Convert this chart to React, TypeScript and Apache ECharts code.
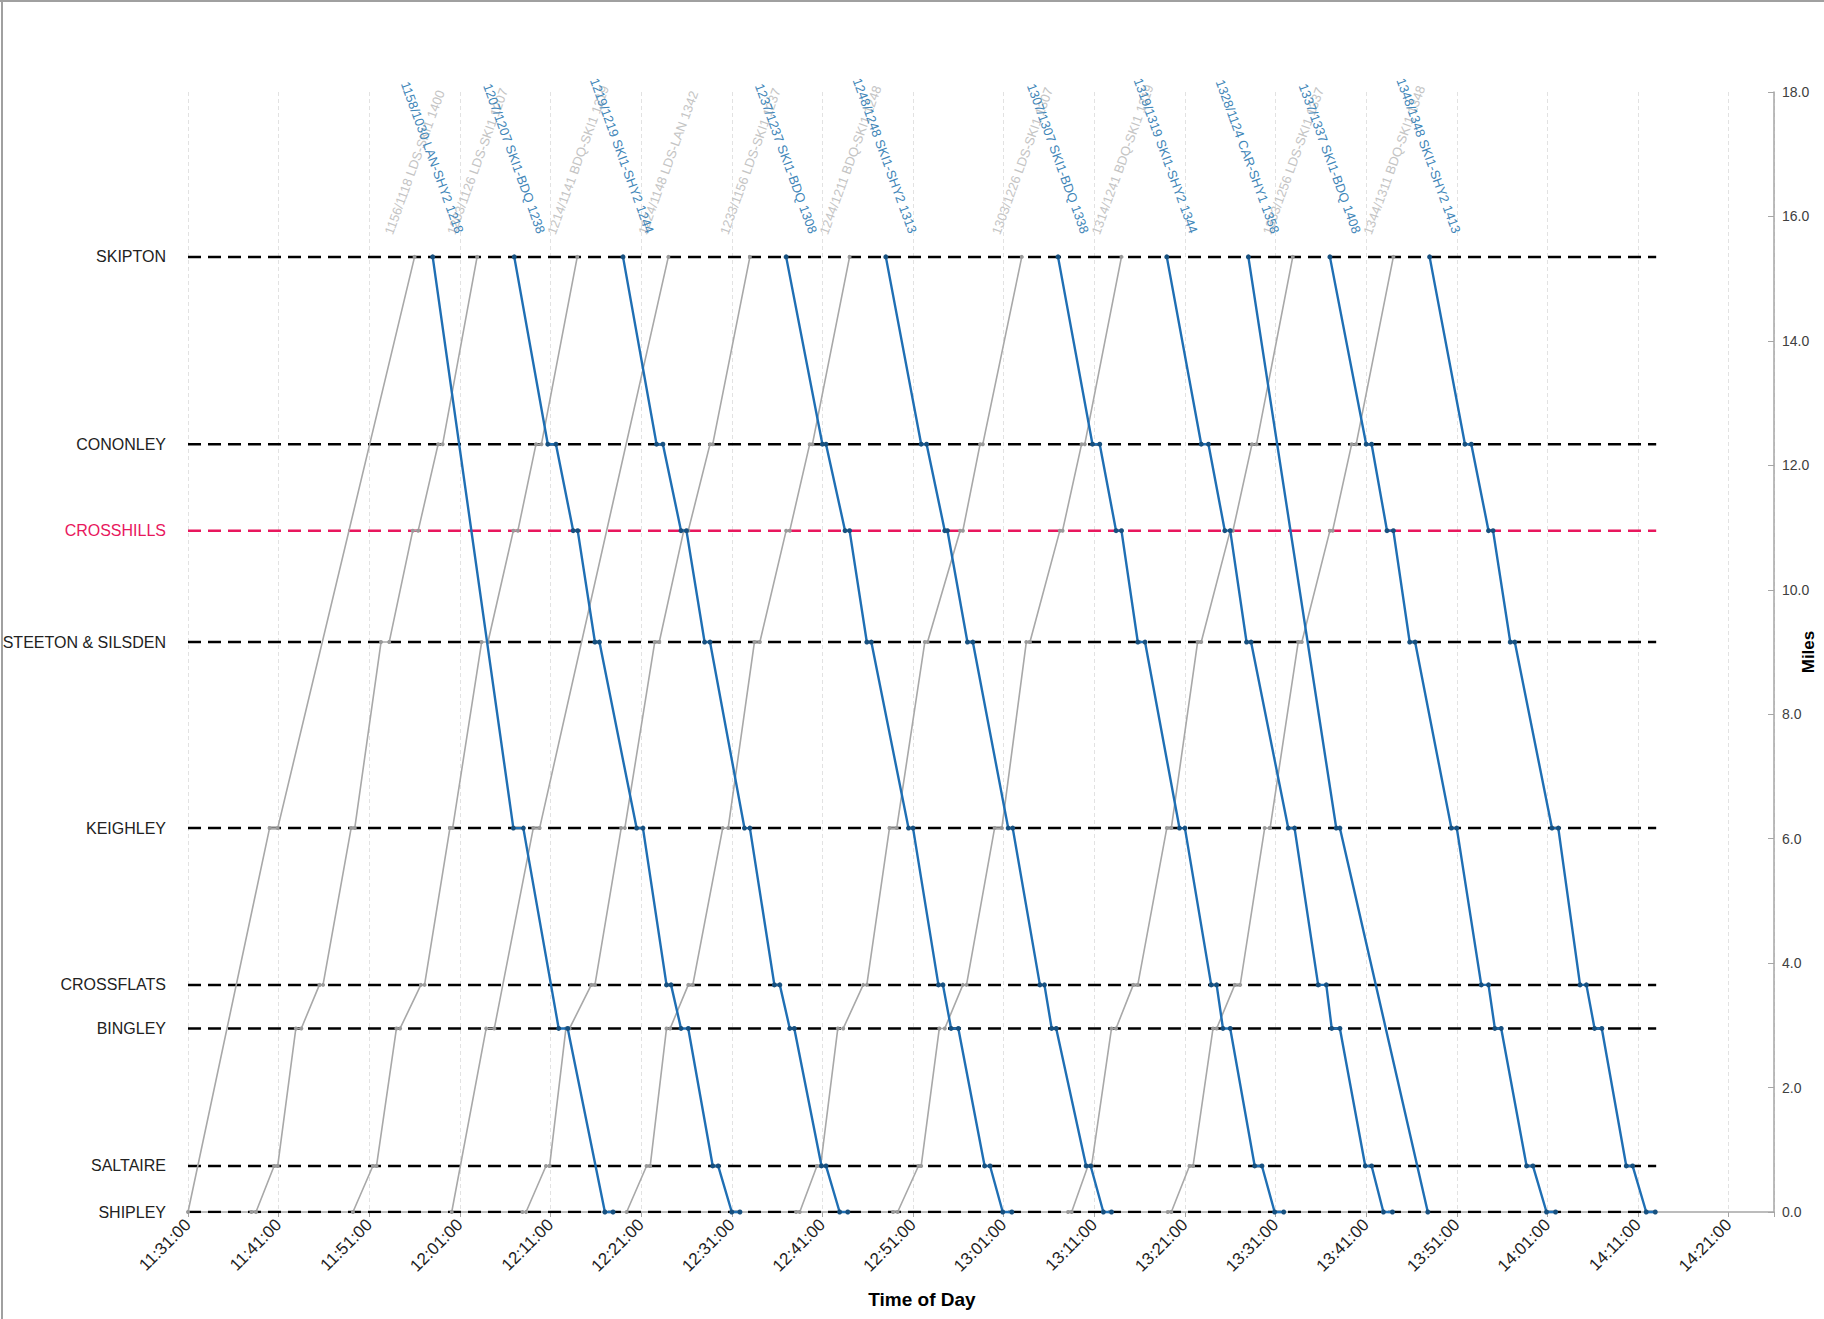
import { useEffect, useRef } from 'react';
import * as echarts from 'echarts';

const FONT = '"Liberation Sans", Arial, sans-serif';

// Axis origin 11:31:00 ; x values are minutes after that
const AXIS_START_MIN = 11 * 60 + 31;
const X_MAX = 175;
const X_INTERVAL = 10;
const STATION_LINE_END = 162;

const STATION_NAMES = ['SHIPLEY', 'SALTAIRE', 'BINGLEY', 'CROSSFLATS', 'KEIGHLEY', 'STEETON & SILSDEN', 'CROSSHILLS', 'CONONLEY', 'SKIPTON'];
const STATION_CODES = ['SHY', 'SAE', 'BIN', 'CFL', 'KEI', 'SSD', 'CRH', 'CNY', 'SKI'];
const STATION_MILES = [0, 0.74, 2.95, 3.65, 6.17, 9.16, 10.95, 12.34, 15.35];
const HIGHLIGHT_STATION = 'CRH';

type Stop = [number, string];

// Down trains (Skipton -> Shipley), blue
const D1158: Stop[] = [[27.0, 'SKI'], [35.9, 'KEI'], [37.0, 'KEI'], [40.9, 'BIN'], [41.9, 'BIN'], [46.0, 'SHY'], [46.9, 'SHY']];
const D1207: Stop[] = [[36.0, 'SKI'], [39.7, 'CNY'], [40.6, 'CNY'], [42.5, 'CRH'], [43.0, 'CRH'], [44.9, 'SSD'], [45.4, 'SSD'], [49.5, 'KEI'], [50.2, 'KEI'], [52.8, 'CFL'], [53.3, 'CFL'], [54.4, 'BIN'], [55.2, 'BIN'], [57.9, 'SAE'], [58.5, 'SAE'], [60.0, 'SHY'], [60.9, 'SHY']];
const D1219: Stop[] = [[48.0, 'SKI'], [51.7, 'CNY'], [52.4, 'CNY'], [54.4, 'CRH'], [55.0, 'CRH'], [57.0, 'SSD'], [57.6, 'SSD'], [61.4, 'KEI'], [62.0, 'KEI'], [64.7, 'CFL'], [65.3, 'CFL'], [66.4, 'BIN'], [66.9, 'BIN'], [69.9, 'SAE'], [70.4, 'SAE'], [71.9, 'SHY'], [72.8, 'SHY']];
const D1237: Stop[] = [[66.0, 'SKI'], [70.0, 'CNY'], [70.4, 'CNY'], [72.5, 'CRH'], [73.0, 'CRH'], [74.9, 'SSD'], [75.4, 'SSD'], [79.5, 'KEI'], [80.0, 'KEI'], [82.8, 'CFL'], [83.3, 'CFL'], [84.2, 'BIN'], [85.0, 'BIN'], [87.9, 'SAE'], [88.5, 'SAE'], [89.9, 'SHY'], [90.9, 'SHY']];
const D1248: Stop[] = [[77.0, 'SKI'], [80.9, 'CNY'], [81.5, 'CNY'], [83.5, 'CRH'], [83.8, 'CRH'], [86.0, 'SSD'], [86.6, 'SSD'], [90.5, 'KEI'], [91.0, 'KEI'], [94.0, 'CFL'], [94.5, 'CFL'], [95.3, 'BIN'], [95.8, 'BIN'], [99.1, 'SAE'], [99.6, 'SAE'], [101.0, 'SHY'], [101.9, 'SHY']];
const D1307: Stop[] = [[96.0, 'SKI'], [99.8, 'CNY'], [100.6, 'CNY'], [102.4, 'CRH'], [103.0, 'CRH'], [104.8, 'SSD'], [105.6, 'SSD'], [109.4, 'KEI'], [110.0, 'KEI'], [112.9, 'CFL'], [113.5, 'CFL'], [114.2, 'BIN'], [115.0, 'BIN'], [117.7, 'SAE'], [118.5, 'SAE'], [119.9, 'SHY'], [120.9, 'SHY']];
const D1319: Stop[] = [[108.0, 'SKI'], [111.8, 'CNY'], [112.6, 'CNY'], [114.4, 'CRH'], [115.0, 'CRH'], [116.8, 'SSD'], [117.3, 'SSD'], [121.4, 'KEI'], [122.1, 'KEI'], [124.7, 'CFL'], [125.6, 'CFL'], [126.2, 'BIN'], [127.1, 'BIN'], [129.9, 'SAE'], [130.6, 'SAE'], [131.9, 'SHY'], [132.9, 'SHY']];
const D1328: Stop[] = [[117.0, 'SKI'], [126.7, 'KEI'], [127.1, 'KEI'], [136.8, 'SHY']];
const D1337: Stop[] = [[126.0, 'SKI'], [130.0, 'CNY'], [130.6, 'CNY'], [132.3, 'CRH'], [133.0, 'CRH'], [134.8, 'SSD'], [135.4, 'SSD'], [139.4, 'KEI'], [140.0, 'KEI'], [142.7, 'CFL'], [143.5, 'CFL'], [144.2, 'BIN'], [144.9, 'BIN'], [147.7, 'SAE'], [148.4, 'SAE'], [149.9, 'SHY'], [150.9, 'SHY']];
const D1348: Stop[] = [[137.0, 'SKI'], [140.9, 'CNY'], [141.6, 'CNY'], [143.5, 'CRH'], [144.0, 'CRH'], [145.9, 'SSD'], [146.4, 'SSD'], [150.5, 'KEI'], [151.2, 'KEI'], [153.6, 'CFL'], [154.3, 'CFL'], [155.2, 'BIN'], [156.0, 'BIN'], [158.7, 'SAE'], [159.4, 'SAE'], [160.9, 'SHY'], [161.9, 'SHY']];

const DOWN_TRAINS = [D1158, D1207, D1219, D1237, D1248, D1307, D1319, D1328, D1337, D1348];
const DOWN_LABELS = [
  '1158/1030 LAN-SHY2 1218',
  '1207/1207 SKI1-BDQ 1238',
  '1219/1219 SKI1-SHY2 1244',
  '1237/1237 SKI1-BDQ 1308',
  '1248/1248 SKI1-SHY2 1313',
  '1307/1307 SKI1-BDQ 1338',
  '1319/1319 SKI1-SHY2 1344',
  '1328/1124 CAR-SHY1 1358',
  '1337/1337 SKI1-BDQ 1408',
  '1348/1348 SKI1-SHY2 1413',
];

// Up trains (Shipley -> Skipton), grey
const U1131: Stop[] = [[0.0, 'SHY'], [9.0, 'KEI'], [9.9, 'KEI'], [25.0, 'SKI']];
const U1138: Stop[] = [[7.0, 'SHY'], [7.5, 'SHY'], [9.5, 'SAE'], [9.9, 'SAE'], [11.9, 'BIN'], [12.5, 'BIN'], [14.5, 'CFL'], [14.9, 'CFL'], [18.0, 'KEI'], [18.4, 'KEI'], [21.3, 'SSD'], [22.2, 'SSD'], [24.8, 'CRH'], [25.4, 'CRH'], [27.6, 'CNY'], [28.1, 'CNY'], [31.9, 'SKI']];
const U1149: Stop[] = [[18.2, 'SHY'], [20.4, 'SAE'], [20.8, 'SAE'], [23.0, 'BIN'], [23.4, 'BIN'], [25.7, 'CFL'], [26.1, 'CFL'], [28.9, 'KEI'], [29.2, 'KEI'], [32.4, 'SSD'], [33.1, 'SSD'], [35.9, 'CRH'], [36.4, 'CRH'], [38.4, 'CNY'], [39.0, 'CNY'], [42.95, 'SKI']];
const U1200: Stop[] = [[29.1, 'SHY'], [32.9, 'BIN'], [33.8, 'BIN'], [38.1, 'KEI'], [38.8, 'KEI'], [53.0, 'SKI']];
const U1208: Stop[] = [[36.9, 'SHY'], [37.3, 'SHY'], [39.5, 'SAE'], [39.9, 'SAE'], [41.7, 'BIN'], [42.1, 'BIN'], [44.5, 'CFL'], [44.9, 'CFL'], [47.8, 'KEI'], [48.2, 'KEI'], [51.5, 'SSD'], [52.0, 'SSD'], [54.7, 'CRH'], [55.2, 'CRH'], [57.6, 'CNY'], [57.9, 'CNY'], [62.0, 'SKI']];
const U1219: Stop[] = [[48.4, 'SHY'], [50.6, 'SAE'], [51.0, 'SAE'], [52.8, 'BIN'], [53.2, 'BIN'], [55.2, 'CFL'], [55.7, 'CFL'], [59.0, 'KEI'], [59.6, 'KEI'], [62.5, 'SSD'], [63.1, 'SSD'], [66.0, 'CRH'], [66.4, 'CRH'], [68.6, 'CNY'], [68.9, 'CNY'], [73.0, 'SKI']];
const U1238: Stop[] = [[67.1, 'SHY'], [67.5, 'SHY'], [69.4, 'SAE'], [69.8, 'SAE'], [71.7, 'BIN'], [72.3, 'BIN'], [74.5, 'CFL'], [74.9, 'CFL'], [77.4, 'KEI'], [78.2, 'KEI'], [81.3, 'SSD'], [81.6, 'SSD'], [85.2, 'CRH'], [85.5, 'CRH'], [87.4, 'CNY'], [87.7, 'CNY'], [92.0, 'SKI']];
const U1249: Stop[] = [[77.8, 'SHY'], [78.3, 'SHY'], [80.6, 'SAE'], [80.9, 'SAE'], [82.9, 'BIN'], [83.5, 'BIN'], [85.5, 'CFL'], [85.9, 'CFL'], [89.0, 'KEI'], [89.8, 'KEI'], [92.5, 'SSD'], [92.9, 'SSD'], [96.2, 'CRH'], [96.5, 'CRH'], [98.6, 'CNY'], [98.95, 'CNY'], [103.0, 'SKI']];
const U1308: Stop[] = [[97.1, 'SHY'], [97.5, 'SHY'], [99.3, 'SAE'], [99.7, 'SAE'], [101.9, 'BIN'], [102.4, 'BIN'], [104.3, 'CFL'], [104.8, 'CFL'], [108.0, 'KEI'], [108.5, 'KEI'], [111.4, 'SSD'], [111.8, 'SSD'], [115.0, 'CRH'], [115.3, 'CRH'], [117.4, 'CNY'], [117.9, 'CNY'], [121.9, 'SKI']];
const U1319: Stop[] = [[108.1, 'SHY'], [108.5, 'SHY'], [110.5, 'SAE'], [110.9, 'SAE'], [113.1, 'BIN'], [113.5, 'BIN'], [115.5, 'CFL'], [116.1, 'CFL'], [118.8, 'KEI'], [119.4, 'KEI'], [122.5, 'SSD'], [122.9, 'SSD'], [126.0, 'CRH'], [126.3, 'CRH'], [128.4, 'CNY'], [128.9, 'CNY'], [133.0, 'SKI']];

const UP_TRAINS = [U1131, U1138, U1149, U1200, U1208, U1219, U1238, U1249, U1308, U1319];
const UP_LABELS = [
  '1156/1118 LDS-SKI1 1400',
  '1203/1126 LDS-SKI1 1207',
  '1214/1141 BDQ-SKI1 1219',
  '1224/1148 LDS-LAN 1342',
  '1233/1156 LDS-SKI1 1237',
  '1244/1211 BDQ-SKI1 1248',
  '1303/1226 LDS-SKI1 1307',
  '1314/1241 BDQ-SKI1 1319',
  '1333/1256 LDS-SKI1 1337',
  '1344/1311 BDQ-SKI1 1348',
];

const BLUE = '#1f6fb4';
const BLUE_MARK = '#17507f';
const BLUE_TEXT = '#3f86b8';
const GREY = '#a8a8a8';
const GREY_MARK = '#9a9a9a';
const GREY_TEXT = '#c4c4c4';
const RED = '#e8175d';
const SYM = 5;

const mileOf = (code: string) => STATION_MILES[STATION_CODES.indexOf(code)];

const fmtTime = (v: number) => {
  const t = AXIS_START_MIN + v;
  const h = Math.floor(t / 60);
  const m = Math.round(t % 60);
  return `${String(h).padStart(2, '0')}:${String(m).padStart(2, '0')}:00`;
};

function buildOption() {
  const series: any[] = [];

  STATION_CODES.forEach((code, i) => {
    const mile = STATION_MILES[i];
    series.push({
      type: 'line',
      silent: true,
      z: 1,
      symbol: 'none',
      yAxisIndex: 0,
      data: [[0, mile], [STATION_LINE_END, mile]],
      lineStyle: { color: code === HIGHLIGHT_STATION ? RED : '#000', width: 2.5, type: [13, 7] },
    });
  });

  UP_TRAINS.forEach((stops, k) => {
    series.push({
      type: 'line',
      silent: true,
      z: 2,
      clip: false,
      yAxisIndex: 0,
      symbol: 'circle',
      symbolSize: 4,
      showAllSymbol: true,
      itemStyle: { color: GREY_MARK },
      lineStyle: { color: GREY, width: 1.6 },
      data: stops.map(([t, code], j) => {
        const value = [t, mileOf(code)];
        if (j === stops.length - 1) {
          return {
            value,
            label: {
              show: true,
              formatter: UP_LABELS[k],
              rotate: 70,
              align: 'left',
              verticalAlign: 'middle',
              position: [2 - 26, 2 - 23],
              color: GREY_TEXT,
              fontSize: 13,
              fontFamily: FONT,
            },
          };
        }
        return value;
      }),
    });
  });

  DOWN_TRAINS.forEach((stops, k) => {
    series.push({
      type: 'line',
      silent: true,
      z: 3,
      clip: false,
      yAxisIndex: 0,
      symbol: 'circle',
      symbolSize: SYM,
      showAllSymbol: true,
      itemStyle: { color: BLUE_MARK },
      lineStyle: { color: BLUE, width: 2.4 },
      data: stops.map(([t, code], j) => {
        const value = [t, mileOf(code)];
        if (j === 0) {
          return {
            value,
            label: {
              show: true,
              formatter: DOWN_LABELS[k],
              rotate: -70,
              align: 'right',
              verticalAlign: 'middle',
              position: [SYM / 2 + 27, SYM / 2 - 24],
              color: BLUE_TEXT,
              fontSize: 13,
              fontFamily: FONT,
            },
          };
        }
        return value;
      }),
    });
  });

  return {
    animation: false,
    backgroundColor: '#ffffff',
    textStyle: { fontFamily: FONT },
    grid: { left: 188, right: 50, top: 92, bottom: 107, containLabel: false, outerBoundsMode: 'none' },
    xAxis: {
      type: 'value',
      min: 0,
      max: X_MAX,
      interval: X_INTERVAL,
      axisLine: { show: true, onZero: false, lineStyle: { color: '#a6a6a6', width: 1.5 } },
      axisTick: { show: true, length: 5, lineStyle: { color: '#a6a6a6' } },
      axisLabel: {
        rotate: 45,
        margin: 10,
        fontSize: 17,
        color: '#222',
        fontFamily: FONT,
        formatter: (v: number) => (v % X_INTERVAL === 0 ? fmtTime(v) : ''),
      },
      splitLine: { show: true, lineStyle: { color: '#e2e2e2', type: [4, 3], width: 1 } },
    },
    yAxis: [
      {
        type: 'value',
        min: 0,
        max: 18,
        interval: 2,
        position: 'right',
        name: 'Miles',
        nameLocation: 'middle',
        nameGap: 26,
        nameRotate: 90,
        nameMoveOverlap: false,
        nameTextStyle: { fontWeight: 'bold', fontSize: 17, color: '#000', fontFamily: FONT },
        axisLine: { show: true, onZero: false, lineStyle: { color: '#a6a6a6', width: 1.5 } },
        axisTick: { show: true, inside: true, length: 6, lineStyle: { color: '#a6a6a6' } },
        axisLabel: { formatter: (v: number) => v.toFixed(1), fontSize: 14, color: '#404040', margin: 8, fontFamily: FONT },
        splitLine: { show: false },
      },
      {
        type: 'value',
        min: 0,
        max: 18,
        interval: 2,
        position: 'left',
        axisLine: { show: false, onZero: false },
        axisTick: { show: false },
        splitLine: { show: false },
        axisLabel: {
          customValues: STATION_MILES,
          margin: 22,
          fontSize: 16,
          color: '#222',
          fontFamily: FONT,
          formatter: (v: number) => {
            const i = STATION_MILES.findIndex((m) => Math.abs(m - v) < 1e-6);
            if (i < 0) return '';
            return STATION_CODES[i] === HIGHLIGHT_STATION ? `{red|${STATION_NAMES[i]}}` : STATION_NAMES[i];
          },
          rich: { red: { color: RED, fontSize: 16, fontFamily: FONT } },
        },
      },
    ],
    graphic: [
      {
        type: 'text',
        x: 922,
        y: 1299,
        silent: true,
        style: { text: 'Time of Day', font: `bold 19px ${FONT}`, fill: '#000', textAlign: 'center', textVerticalAlign: 'middle' },
      },
      { type: 'line', silent: true, shape: { x1: 2, y1: 0, x2: 2, y2: 1319 }, style: { stroke: '#a0a0a0', lineWidth: 2 } },
      { type: 'line', silent: true, shape: { x1: 0, y1: 1, x2: 1824, y2: 1 }, style: { stroke: '#a0a0a0', lineWidth: 2 } },
    ],
    series,
  };
}

export default function App() {
  const ref = useRef<HTMLDivElement>(null);
  useEffect(() => {
    if (!ref.current) return;
    const chart = echarts.init(ref.current, null, { renderer: 'svg' });
    chart.setOption(buildOption() as any);
    return () => chart.dispose();
  }, []);
  return (
    <div
      ref={ref}
      style={{ position: 'absolute', left: 0, top: 0, width: 1824, height: 1319, background: '#fff' }}
    />
  );
}
